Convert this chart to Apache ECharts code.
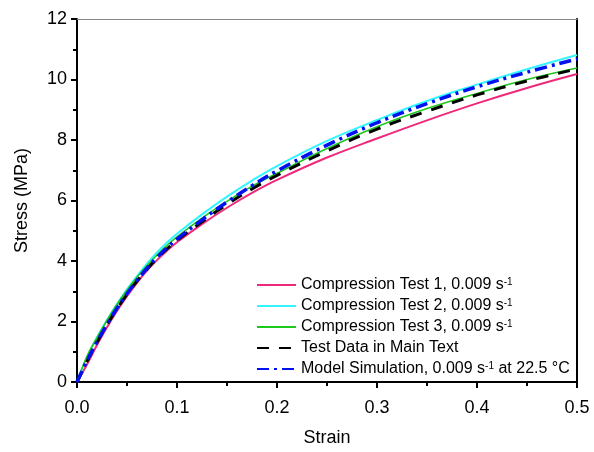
<!DOCTYPE html>
<html><head><meta charset="utf-8">
<script src="https://cdn.jsdelivr.net/npm/echarts@6/dist/echarts.min.js"></script>
<style>html,body{margin:0;padding:0;background:#fff}#c{width:594px;height:452px}</style>
</head><body><div id="c"></div>
<script>
const strain = [0, 0.01, 0.02, 0.03, 0.04, 0.05, 0.06, 0.07, 0.08, 0.09, 0.1, 0.125, 0.15, 0.175, 0.2, 0.25, 0.3, 0.35, 0.4, 0.45, 0.5];
const test1 = [0, 0.58, 1.22, 1.81, 2.35, 2.84, 3.28, 3.68, 4.03, 4.34, 4.62, 5.22, 5.76, 6.25, 6.68, 7.42, 8.05, 8.65, 9.21, 9.72, 10.18];
const test2 = [0, 0.82, 1.47, 2.05, 2.58, 3.06, 3.50, 3.91, 4.28, 4.61, 4.90, 5.54, 6.13, 6.66, 7.14, 7.97, 8.66, 9.29, 9.83, 10.34, 10.81];
const test3 = [0, 0.85, 1.47, 2.04, 2.56, 3.03, 3.46, 3.85, 4.20, 4.52, 4.80, 5.42, 5.97, 6.47, 6.90, 7.72, 8.44, 9.04, 9.54, 10.00, 10.38];
const mainText = [0, 0.68, 1.31, 1.89, 2.42, 2.90, 3.34, 3.73, 4.09, 4.40, 4.68, 5.30, 5.87, 6.38, 6.83, 7.64, 8.36, 8.95, 9.49, 9.95, 10.35];
const model = [0, 0.70, 1.33, 1.91, 2.44, 2.92, 3.36, 3.76, 4.12, 4.44, 4.72, 5.36, 5.95, 6.49, 6.98, 7.83, 8.57, 9.20, 9.76, 10.24, 10.68];
const xTicks = [0, 0.1, 0.2, 0.3, 0.4, 0.5];
const yTicks = [0, 2, 4, 6, 8, 10, 12];

const names = [
  'Compression Test 1, 0.009 s',
  'Compression Test 2, 0.009 s',
  'Compression Test 3, 0.009 s',
  'Test Data in Main Text',
  'Model Simulation, 0.009 s'
];
const pair = arr => strain.map((s, i) => [s, arr[i]]);
const font = 'Liberation Sans, Arial, sans-serif';

const chart = echarts.init(document.getElementById('c'), null, {renderer: 'canvas'});
chart.setOption({
  animation: false,
  backgroundColor: '#fff',
  textStyle: {fontFamily: font},
  grid: {left: 77, right: 17, top: 19, bottom: 70},
  legend: {
    orient: 'vertical', left: 256, top: 277, itemWidth: 39, itemHeight: 12, itemGap: 5, padding: 0,
    itemStyle: {color: 'rgba(0,0,0,0)', borderColor: 'rgba(0,0,0,0)', borderWidth: 0},
    textStyle: {fontFamily: font, fontSize: 16, color: '#000', padding: [0, 0, 0, 0],
      rich: {t: {fontFamily: font, fontSize: 16, color: '#000', lineHeight: 16},
             s: {fontFamily: font, fontSize: 10, color: '#000', verticalAlign: 'top', lineHeight: 16, padding: [0, 0, 6, 0]}}},
    formatter: function (n) {
      if (n === names[3]) return '{t|' + n + '}';
      if (n === names[4]) return '{t|' + n + '}{s|-1}{t| at 22.5 °C}';
      return '{t|' + n + '}{s|-1}';
    },
    data: names
  },
  xAxis: [{
    type: 'value', min: 0, max: 0.5, interval: 0.1,
    name: 'Strain', nameLocation: 'middle', nameGap: 47,
    nameTextStyle: {fontFamily: font, fontSize: 18, color: '#000'},
    axisLine: {lineStyle: {color: '#000', width: 2}},
    axisTick: {inside: false, length: 6, lineStyle: {color: '#000', width: 2}},
    minorTick: {show: true, splitNumber: 2, length: 4, lineStyle: {color: '#000', width: 2}},
    splitLine: {show: false},
    axisLabel: {fontFamily: font, fontSize: 18, color: '#000', margin: 17, formatter: v => v.toFixed(1)}
  }, {
    type: 'value', position: 'top', min: 0, max: 0.5,
    axisLine: {show: true, onZero: false, lineStyle: {color: '#888', width: 1}},
    axisTick: {show: false}, axisLabel: {show: false}, splitLine: {show: false}
  }],
  yAxis: [{
    type: 'value', min: 0, max: 12, interval: 2,
    name: 'Stress (MPa)', nameLocation: 'middle', nameGap: 46,
    nameTextStyle: {fontFamily: font, fontSize: 18, color: '#000'},
    axisLine: {show: true, lineStyle: {color: '#000', width: 2}},
    axisTick: {show: true, inside: false, length: 6, lineStyle: {color: '#000', width: 2}},
    minorTick: {show: true, splitNumber: 2, length: 4, lineStyle: {color: '#000', width: 2}},
    splitLine: {show: false},
    axisLabel: {fontFamily: font, fontSize: 18, color: '#000', margin: 10}
  }, {
    type: 'value', position: 'right', min: 0, max: 12,
    axisLine: {show: true, onZero: false, lineStyle: {color: '#000', width: 2}},
    axisTick: {show: false}, axisLabel: {show: false}, splitLine: {show: false}
  }],
  series: [
    {name: names[0], type: 'line', smooth: 0.4, symbol: 'none', data: pair(test1), lineStyle: {color: '#F0287A', width: 2}, itemStyle: {color: '#F0287A'}},
    {name: names[1], type: 'line', smooth: 0.4, symbol: 'none', data: pair(test2), lineStyle: {color: '#33F5FF', width: 2}, itemStyle: {color: '#33F5FF'}},
    {name: names[2], type: 'line', smooth: 0.4, symbol: 'none', data: pair(test3), lineStyle: {color: '#1CC81C', width: 1.6}, itemStyle: {color: '#1CC81C'}},
    {name: names[3], type: 'line', smooth: 0.4, symbol: 'none', data: pair(mainText), lineStyle: {color: '#000', width: 3, type: [12, 10]}, itemStyle: {color: '#000'}},
    {name: names[4], type: 'line', smooth: 0.4, symbol: 'none', data: pair(model), lineStyle: {color: '#0010F0', width: 3.5, type: [12, 5, 3, 5]}, itemStyle: {color: '#0010F0'}}
  ]
});
</script></body></html>
